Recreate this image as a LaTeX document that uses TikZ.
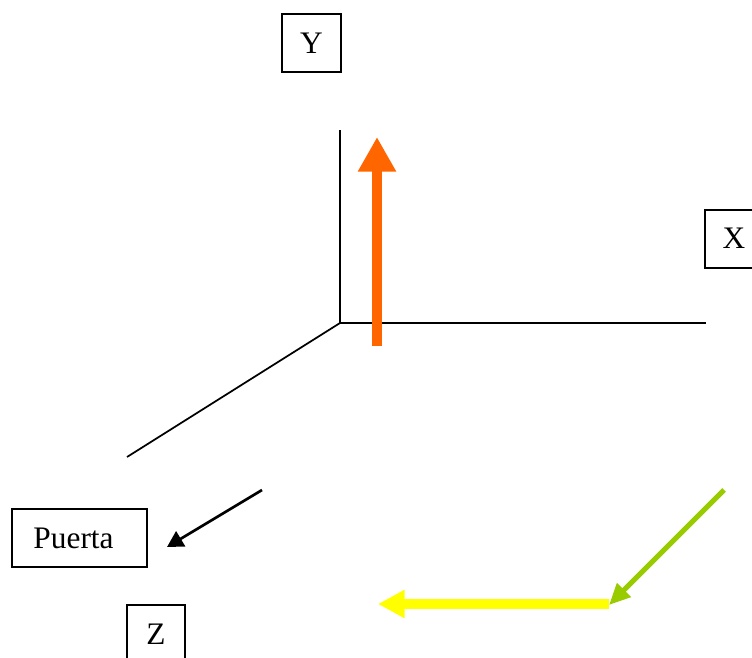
\documentclass[tikz,border=0pt]{standalone}
\usepackage{fontspec}
\setmainfont{Liberation Serif}
\usetikzlibrary{arrows.meta}
\definecolor{orangeA}{HTML}{FF6600}
\definecolor{greenA}{HTML}{99CC00}
\definecolor{yellowA}{HTML}{FFFF00}
\tikzset{
  lbl/.style={draw=black, line width=1.5pt, font=\fontsize{23.5}{27}\selectfont, minimum width=44pt, minimum height=43.5pt, inner sep=0pt},
  axis/.style={line width=1.3pt, black},
}
\begin{document}
\begin{tikzpicture}[x=0.75pt, y=-0.75pt]
\useasboundingbox (0,0) rectangle (752,657);
\clip (0,0) rectangle (752,657);
\node[lbl] (Y) at (311.5,43) {Y};
\node[lbl] (X) at (734,238.5) {X};
\node[lbl, minimum width=101pt, text width=69pt, inner xsep=16pt, align=left] (P) at (79.5,538) {Puerta};
\node[lbl] (Z) at (156,634) {Z};
\coordinate (O) at (340,323);
\coordinate (Ytop) at (340,130);
\coordinate (Xend) at (706,323);
\coordinate (Zend) at (127,457);
\draw[axis] (O) -- (Ytop);
\draw[axis] (O) -- (Xend);
\draw[axis] (O) -- (Zend);
\coordinate (oa) at (377,346);
\coordinate (ob) at (377,137);
\draw[orangeA, line width=7.5pt, -{Triangle[width=27pt, length=26pt]}] (oa) -- (ob);
\coordinate (ba) at (262,490);
\coordinate (bb) at (167,547);
\draw[black, line width=2pt, -{Triangle[width=13pt, length=12pt]}] (ba) -- (bb);
\coordinate (ga) at (724,490);
\coordinate (gb) at (609,605);
\draw[greenA, line width=3.75pt, -{Triangle[width=14pt, length=16pt]}] (ga) -- (gb);
\coordinate (ya) at (609,604);
\coordinate (yb) at (378,604);
\draw[yellowA, line width=7.5pt, -{Triangle[width=20pt, length=20pt]}] (ya) -- (yb);
\end{tikzpicture}
\end{document}
